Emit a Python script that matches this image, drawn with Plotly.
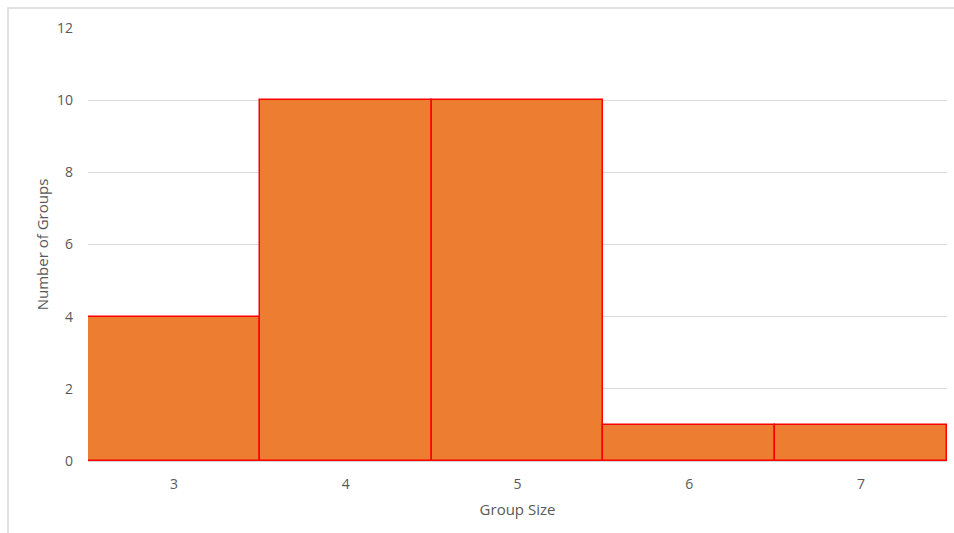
import plotly.graph_objects as go

group_sizes = [3, 4, 5, 6, 7]
group_counts = [4, 10, 10, 1, 1]
y_ticks = [0, 2, 4, 6, 8, 10, 12]

W, H = 954, 533
L, R, T, B = 88, 7, 28, 72
pw, ph = W - L - R, H - T - B

fig = go.Figure()
fig.add_trace(go.Bar(
    x=group_sizes, y=group_counts, width=1,
    marker=dict(color="#ED7D31", line=dict(color="#FF0000", width=1.5)),
))

ff = "'Open Sans', 'Noto Sans', sans-serif"
col = "#595959"
fig.update_layout(
    width=W, height=H,
    margin=dict(l=L, r=R, t=T, b=B),
    paper_bgcolor="white", plot_bgcolor="white",
    showlegend=False, font=dict(family=ff, size=14, color=col),
    xaxis=dict(
        range=[2.5, 7.5], tickvals=group_sizes, ticktext=[str(v) for v in group_sizes],
        showgrid=False, showline=True, linecolor="#D9D9D9", linewidth=1,
        ticks="", ticklabelstandoff=10, zeroline=False,
        tickfont=dict(family=ff, size=14, color=col),
        title=dict(text="Group Size", font=dict(family=ff, size=15, color=col), standoff=12),
    ),
    yaxis=dict(
        range=[0, 12], tickvals=y_ticks, showgrid=True, gridcolor="#D9D9D9", gridwidth=1,
        zeroline=False, showline=False, ticks="", ticklabelstandoff=14,
        tickfont=dict(family=ff, size=14, color=col),
        title=dict(text="Number of Groups", font=dict(family=ff, size=15, color=col), standoff=4),
    ),
    shapes=[dict(
        type="rect", xref="paper", yref="paper",
        x0=(8 - L) / pw, x1=(W + 5 - L) / pw,
        y0=-(H + 5 - (T + ph)) / ph, y1=(T + ph - 8) / ph,
        line=dict(color="#D9D9D9", width=1.5), fillcolor="rgba(0,0,0,0)", layer="below",
    )],
    bargap=0,
)

fig.write_html("out.html")
